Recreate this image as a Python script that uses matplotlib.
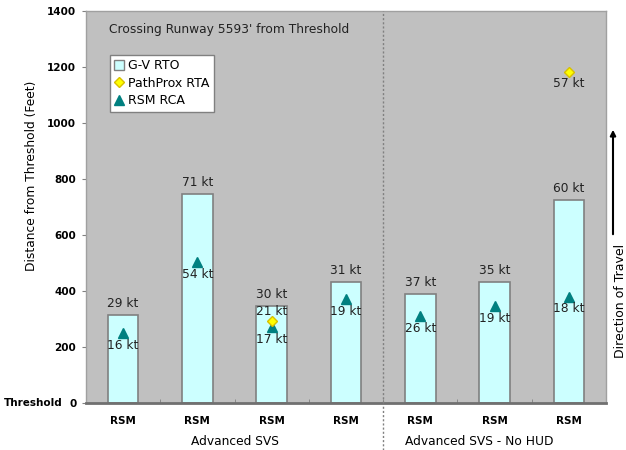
import matplotlib
matplotlib.use("Agg")
import matplotlib.pyplot as plt
from matplotlib.lines import Line2D
from matplotlib.patches import FancyArrowPatch

categories = ["RSM", "RSM", "RSM", "RSM", "RSM", "RSM", "RSM"]
groups = ["Advanced SVS", "Advanced SVS - No HUD"]
rto_dist = [314, 746, 346, 432, 389, 432, 725]
rto_speed = ["29 kt", "71 kt", "30 kt", "31 kt", "37 kt", "35 kt", "60 kt"]
rca_dist = [250, 502, 271, 371, 310, 346, 379]
rca_speed = ["16 kt", "54 kt", "17 kt", "19 kt", "26 kt", "19 kt", "18 kt"]
rta_idx = [2, 6]
rta_dist = [293, 1182]
rta_speed = ["21 kt", "57 kt"]
yticks = [0, 200, 400, 600, 800, 1000, 1200, 1400]

W, H = 626, 450
fig = plt.figure(figsize=(W / 100, H / 100), dpi=100)
ax = fig.add_axes([86 / W, 1 - 403 / H, 520 / W, 392 / H])
ax.set_facecolor("#C0C0C0")
x = list(range(len(categories)))

ax.bar(x, rto_dist, width=0.41, color="#CCFFFF", edgecolor="#808080", linewidth=1.2, zorder=2)
ax.plot(x, rca_dist, linestyle="none", marker="^", color="#008080", markersize=7, zorder=4)
ax.plot(rta_idx, rta_dist, linestyle="none", marker="D", markerfacecolor="#FFFF00",
        markeredgecolor="#D8C000", markersize=5, zorder=5)

fs = 8.8
tc = "#222222"
for xi, d, s in zip(x, rto_dist, rto_speed):
    ax.text(xi, d + 18, s, ha="center", va="bottom", fontsize=fs, color=tc, zorder=6)
for xi, d, s in zip(x, rca_dist, rca_speed):
    ax.text(xi, d - 20, s, ha="center", va="top", fontsize=fs, color=tc, zorder=6)
ax.text(rta_idx[0], rta_dist[0] + 12, rta_speed[0], ha="center", va="bottom", fontsize=fs, color=tc, zorder=6)
ax.text(rta_idx[1], rta_dist[1] - 18, rta_speed[1], ha="center", va="top", fontsize=fs, color=tc, zorder=6)

ax.set_xlim(-0.5, 6.5)
ax.set_ylim(0, 1400)
ax.set_yticks(yticks)
ax.set_yticklabels([str(v) for v in yticks], fontsize=7.5, fontweight="bold")
ax.set_xticks(x)
ax.set_xticklabels(categories, fontsize=7.5, fontweight="bold")
ax.tick_params(axis="x", length=0, pad=9)
ax.tick_params(axis="y", length=3, color="#808080", pad=4)
ax.set_xticks([i + 0.5 for i in range(6)], minor=True)
ax.tick_params(axis="x", which="minor", length=3, color="#808080", direction="in")

for sp in ["top", "right", "left"]:
    ax.spines[sp].set_color("#A0A0A0")
    ax.spines[sp].set_linewidth(1)
ax.spines["bottom"].set_color("#707070")
ax.spines["bottom"].set_linewidth(2)

ax.set_ylabel("Distance from Threshold (Feet)", fontsize=8.8)
ax.yaxis.set_label_coords(-0.092, 0.58)

# Threshold label next to 0
fig.text(63 / W, 1 - 403 / H, "Threshold", ha="right", va="center", fontsize=7.5, fontweight="bold")

# Divider
ax.plot([3.5, 3.5], [0, 1400], linestyle=(0, (1.5, 1.5)), color="#808080", linewidth=1, zorder=3)
fig.add_artist(Line2D([383 / W, 383 / W], [0, 1 - 403 / H], linestyle=(0, (1.5, 1.5)),
                      color="#808080", linewidth=1))

# Group labels
ax.text(1.5, -138, groups[0], ha="center", va="center", fontsize=8.8, clip_on=False)
ax.text(4.8, -138, groups[1], ha="center", va="center", fontsize=8.8, clip_on=False)

# Inner title
ax.text(0.045, 0.953, "Crossing Runway 5593' from Threshold", transform=ax.transAxes,
        ha="left", va="center", fontsize=fs, color=tc)

# Legend
handles = [
    Line2D([], [], linestyle="none", marker="s", markerfacecolor="#CCFFFF", markeredgecolor="#808080", markersize=7),
    Line2D([], [], linestyle="none", marker="D", markerfacecolor="#FFFF00", markeredgecolor="#D8C000", markersize=5),
    Line2D([], [], linestyle="none", marker="^", color="#008080", markersize=7),
]
leg = ax.legend(handles, ["G-V RTO", "PathProx RTA", "RSM RCA"], loc="upper left",
                bbox_to_anchor=(24 / 520, 1 - 44 / 392), fontsize=9, frameon=True, fancybox=False,
                handlelength=0.8, handletextpad=0.3, borderpad=0.35, labelspacing=0.35,
                borderaxespad=0, framealpha=1)
leg.get_frame().set_facecolor("white")
leg.get_frame().set_edgecolor("#808080")
leg.get_frame().set_linewidth(1)

# Direction of travel arrow & text
fig.add_artist(FancyArrowPatch((613 / W, 1 - 237 / H), (613 / W, 1 - 127 / H),
                               arrowstyle="-|>", mutation_scale=8, color="black",
                               linewidth=1.5, transform=fig.transFigure))
fig.text(621 / W, 1 - 301 / H, "Direction of Travel", rotation=90, ha="center", va="center", fontsize=9)

fig.savefig("out.png", dpi=100)
